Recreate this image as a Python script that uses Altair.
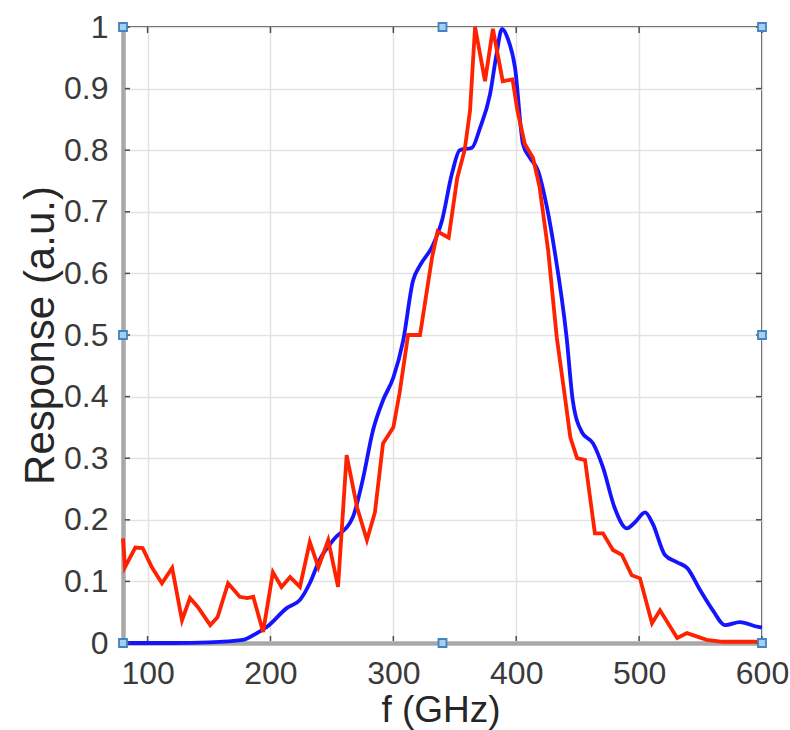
import altair as alt
import pandas as pd

# ---- data ----
red_f = [80, 81.6, 90, 96, 103.5, 111.7, 120, 128, 134.5, 141,
         151, 157, 165.5, 175, 181, 186, 194, 202, 209, 216,
         224, 232, 239, 247, 255, 262, 270.5, 278.5, 285, 291.6,
         300, 305, 312, 321.7, 331.5, 336, 345, 352, 358, 362.4,
         366.5, 374.6, 381, 389, 397, 401, 407, 413.6, 419, 426,
         433, 440, 444, 449.5, 456, 464, 470.6, 478.7, 486, 494,
         500.7, 510.5, 517, 531, 539, 555, 568, 596, 600]
red_r = [0.17, 0.123, 0.155, 0.154, 0.123, 0.097, 0.122, 0.037, 0.073, 0.058,
         0.029, 0.042, 0.097, 0.075, 0.073, 0.075, 0.018, 0.115, 0.091, 0.107,
         0.091, 0.164, 0.123, 0.167, 0.091, 0.305, 0.22, 0.167, 0.212, 0.324,
         0.35, 0.405, 0.5, 0.5, 0.626, 0.668, 0.658, 0.755, 0.8, 0.864,
         1.0, 0.912, 0.997, 0.912, 0.915, 0.864, 0.81, 0.788, 0.74, 0.637,
         0.496, 0.394, 0.334, 0.30, 0.297, 0.178, 0.178, 0.151, 0.143, 0.11,
         0.105, 0.032, 0.053, 0.008, 0.016, 0.005, 0.002, 0.002, 0.002]

blue_f = [80, 120, 150, 177.6, 189, 197, 213.5, 224, 232, 240,
          251, 267, 275, 283.4, 291.6, 300, 308, 316, 321.7, 332,
          339.6, 347.7, 354, 364, 370.5, 378.7, 384, 388.4, 393, 399,
          405.5, 411, 417.7, 425, 431.6, 441, 446, 453.5, 462.5, 470.6,
          480, 490, 496.7, 504.8, 511, 521, 531, 539, 549.6, 560,
          570, 582, 597, 600]
blue_r = [0.0, 0.0, 0.001, 0.005, 0.016, 0.026, 0.057, 0.07, 0.097, 0.135,
          0.167, 0.204, 0.264, 0.345, 0.394, 0.431, 0.491, 0.588, 0.613, 0.645,
          0.686, 0.762, 0.8, 0.804, 0.836, 0.891, 0.956, 0.997, 0.982, 0.934,
          0.81, 0.788, 0.767, 0.707, 0.632, 0.496, 0.394, 0.342, 0.324, 0.285,
          0.22, 0.186, 0.196, 0.212, 0.194, 0.143, 0.131, 0.122, 0.086, 0.053,
          0.029, 0.034, 0.026, 0.025]

x_ticks = [100, 200, 300, 400, 500, 600]
y_ticks = [0, 0.1, 0.2, 0.3, 0.4, 0.5, 0.6, 0.7, 0.8, 0.9, 1]

handle_x = [80, 340, 600, 80, 600, 80, 340, 600]
handle_y = [0, 0, 0, 0.5, 0.5, 1, 1, 1]

# ---- chart ----
W, H = 639, 616
FONT = "Liberation Sans"

xs = alt.Scale(domain=[80, 600], nice=False, zero=False)
ys = alt.Scale(domain=[0, 1], nice=False, zero=False)

blue_df = pd.DataFrame({"f": blue_f, "r": blue_r})
red_df = pd.DataFrame({"f": red_f, "r": red_r})
xt_df = pd.DataFrame({"f": x_ticks})
yt_df = pd.DataFrame({"r": y_ticks})
h_df = pd.DataFrame({"f": handle_x, "r": handle_y})

x_axis = alt.Axis(
    values=x_ticks, title="f (GHz)", grid=True, ticks=False,
    domain=True, domainColor="#a8a8a8", domainWidth=4.5,
    gridColor="#e2e2e2", gridWidth=1.5,
    labelFont=FONT, labelFontSize=32, labelColor="#3a3a3a", labelPadding=15,
    labelFlush=False, labelOverlap=False, labelBound=False,
    titleFont=FONT, titleFontSize=37, titleColor="#262626", titleFontWeight="normal",
    titleX=W / 2 - 2, titleY=67, titleBaseline="middle", titleAlign="center",
)
y_axis = alt.Axis(
    values=y_ticks, format="~g", title="Response (a.u.)", grid=True, ticks=False,
    domain=True, domainColor="#a8a8a8", domainWidth=4.5,
    gridColor="#e2e2e2", gridWidth=1.5,
    labelFont=FONT, labelFontSize=32, labelColor="#3a3a3a", labelPadding=15,
    labelFlush=False, labelOverlap=False, labelBound=False, labelBaseline="middle",
    titleFont=FONT, titleFontSize=42, titleColor="#262626", titleFontWeight="normal",
    titleX=-83, titleY=H / 2, titleAngle=270, titleBaseline="middle", titleAlign="center",
)

X = alt.X("f:Q", scale=xs, axis=x_axis)
Y = alt.Y("r:Q", scale=ys, axis=y_axis)

blue = alt.Chart(blue_df).mark_line(
    color="#1414ff", strokeWidth=3.8, interpolate="monotone", clip=False
).encode(x=X, y=Y, order="f:Q")

red = alt.Chart(red_df).mark_line(
    color="#ff2200", strokeWidth=3.8, clip=False
).encode(x=X, y=Y, order="f:Q")

tick_style = dict(color="#4d4d4d", strokeWidth=1.5)
left_ticks = alt.Chart(yt_df).mark_rule(**tick_style).encode(
    y=Y, x=alt.value(2), x2=alt.value(7))
right_ticks = alt.Chart(yt_df).mark_rule(**tick_style).encode(
    y=Y, x=alt.value(W), x2=alt.value(W - 6))
top_ticks = alt.Chart(xt_df).mark_rule(**tick_style).encode(
    x=X, y=alt.value(0), y2=alt.value(6))
bottom_ticks = alt.Chart(xt_df).mark_rule(**tick_style).encode(
    x=X, y=alt.value(H - 2), y2=alt.value(H - 7))

handles = alt.Chart(h_df).mark_square(
    size=64, filled=True, fill="#a9cdea", stroke="#3f84c5", strokeWidth=1.8,
    opacity=1, clip=False
).encode(x=X, y=Y)

chart = alt.layer(
    blue, red, left_ticks, right_ticks, top_ticks, bottom_ticks, handles
).properties(
    width=W, height=H,
    autosize=alt.AutoSizeParams(type="none"),
    padding={"left": 123, "top": 27, "right": 28, "bottom": 87},
    background="white",
).configure_view(
    stroke="#4d4d4d", strokeWidth=2
)

chart.save("out.html", embed_options={"renderer": "svg", "actions": False})
